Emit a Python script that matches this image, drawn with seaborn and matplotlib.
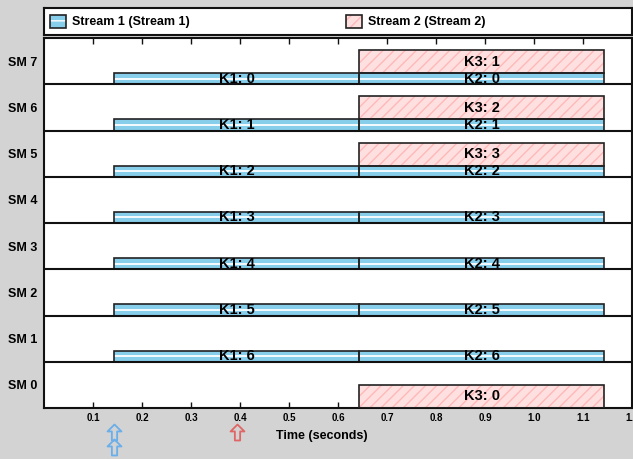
import matplotlib
matplotlib.use('Agg')
import numpy as np
import pandas as pd
import matplotlib.pyplot as plt
import matplotlib.transforms as mtransforms
from matplotlib.patches import Patch
from matplotlib.path import Path
from matplotlib.legend_handler import HandlerTuple
import seaborn as sns

# data
sm_ids = [0, 1, 2, 3, 4, 5, 6, 7]

k1_sm = [7, 6, 5, 4, 3, 2, 1]
k1_block = [0, 1, 2, 3, 4, 5, 6]
k1_start, k1_end = 0.143, 0.643

k2_sm = [7, 6, 5, 4, 3, 2, 1]
k2_block = [0, 1, 2, 3, 4, 5, 6]
k2_start, k2_end = 0.643, 1.143

k3_sm = [7, 6, 5, 0]
k3_block = [1, 2, 3, 0]
k3_start, k3_end = 0.643, 1.143

stream1_arrivals = [0.143, 0.143]
stream2_arrivals = [0.393]

xticks = [0.1, 0.2, 0.3, 0.4, 0.5, 0.6, 0.7, 0.8, 0.9, 1.0, 1.1, 1.2]

records = []
for name, sms, blocks, t0, t1, stream in [
        ('K1', k1_sm, k1_block, k1_start, k1_end, 1),
        ('K2', k2_sm, k2_block, k2_start, k2_end, 1),
        ('K3', k3_sm, k3_block, k3_start, k3_end, 2)]:
    for s, b in zip(sms, blocks):
        records.append({'kernel': name, 'block': b, 'sm': s,
                        'start': t0, 'end': t1, 'stream': stream})
df = pd.DataFrame(records)

sns.set_style('white')
plt.rcParams['font.family'] = ['Liberation Sans', 'DejaVu Sans']
plt.rcParams['hatch.linewidth'] = 1.0
plt.rcParams.update({'text.color': 'black', 'axes.labelcolor': 'black',
                     'xtick.color': 'black', 'ytick.color': 'black'})

blue = '#87CEEB'
pink_fill = '#FFE0E0'
pink_hatch = '#FFB8B8'
bg = '#d3d3d3'

fig = plt.figure(figsize=(6.33, 4.59), dpi=100, facecolor=bg)
ax = fig.add_axes([44 / 633, 51 / 459, 588 / 633, 370 / 459])
ax.set_facecolor('white')

S1_H = 0.24
S2_H = 0.5
s1_rows = set(df.loc[df.stream == 1, 'sm'])

for _, r in df.iterrows():
    if r.stream == 1:
        base, h = r.sm, S1_H
        ax.barh(base + h / 2, r.end - r.start, left=r.start, height=h,
                color=blue, linewidth=0, zorder=2)
        ax.hlines(base + h / 2, r.start, r.end, color='white', lw=1.3, zorder=3)
    else:
        base = r.sm + (S1_H if r.sm in s1_rows else 0)
        h = S2_H
        ax.barh(base + h / 2, r.end - r.start, left=r.start, height=h,
                color=pink_fill, edgecolor=pink_hatch, linewidth=0,
                hatch='///', zorder=2)
    ax.barh(base + h / 2, r.end - r.start, left=r.start, height=h,
            facecolor='none', edgecolor='#222222', linewidth=1.2, zorder=4)
    clip = mtransforms.TransformedBbox(
        mtransforms.Bbox([[0, r.sm], [1.2, r.sm + 1]]), ax.transData)
    t = ax.text((r.start + r.end) / 2, base + h / 2, f'{r.kernel}: {r.block}',
                ha='center', va='center', fontsize=10.5, fontweight='bold',
                color='black', zorder=5)
    t.set_clip_box(clip)
    t.set_clip_on(True)

for y in sm_ids[1:]:
    ax.axhline(y, color='#111111', lw=1.5, zorder=6)

ax.set_xlim(0, 1.2)
ax.set_ylim(0, len(sm_ids))
ax.set_xticks(xticks, labels=[f'{v:.1f}' for v in xticks],
              fontsize=7, fontweight='bold')
ax.set_yticks([s + 0.5 for s in sm_ids], labels=[f'SM {s}' for s in sm_ids],
              fontsize=9, fontweight='bold')
ax.tick_params(axis='x', direction='in', top=True, bottom=True,
               length=4, width=1, pad=3.5, color='#111111')
ax.tick_params(axis='y', length=0, pad=4.5)
for sp in ax.spines.values():
    sp.set_color('#111111')
    sp.set_linewidth(1.5)
ax.set_xlabel('Time (seconds)', fontsize=9, fontweight='bold')
ax.xaxis.set_label_coords(0.473, -0.06)

# arrival arrows below the axis
arrow = Path([(0, 1), (-0.87, 0.13), (-0.33, 0.13), (-0.33, -1),
              (0.33, -1), (0.33, 0.13), (0.87, 0.13), (0, 1)],
             [Path.MOVETO] + [Path.LINETO] * 6 + [Path.CLOSEPOLY])
trans = mtransforms.blended_transform_factory(ax.transData, ax.transAxes)
for arrivals, col in [(stream1_arrivals, '#6AAEEA'), (stream2_arrivals, '#E06666')]:
    ys = [-0.066 - 0.04 * i for i in range(len(arrivals))]
    ax.plot(arrivals, ys, ls='none', marker=arrow, ms=11.5, mfc='none',
            mec=col, mew=1.3, transform=trans, clip_on=False)

# legend box
lax = fig.add_axes([44 / 633, 424 / 459, 588 / 633, 27 / 459])
lax.set_facecolor('white')
lax.set_xticks([])
lax.set_yticks([])
for sp in lax.spines.values():
    sp.set_color('#111111')
    sp.set_linewidth(1.5)
h1 = (Patch(facecolor=blue, edgecolor='white', linewidth=0, hatch='--'),
      Patch(facecolor='none', edgecolor='#222222', linewidth=1.2))
h2 = (Patch(facecolor=pink_fill, edgecolor=pink_hatch, linewidth=0, hatch='///'),
      Patch(facecolor='none', edgecolor='#222222', linewidth=1.2))
lax.legend([h1, h2], ['Stream 1 (Stream 1)', 'Stream 2 (Stream 2)'],
           handler_map={tuple: HandlerTuple(ndivide=1, pad=0)},
           ncol=2, loc='center left', bbox_to_anchor=(0, 0.5),
           frameon=False, borderaxespad=0, borderpad=0.5,
           handlelength=1.28, handleheight=1.28, handletextpad=0.45,
           columnspacing=12.5, prop={'size': 9, 'weight': 'bold'})

fig.savefig('out.png', dpi=100, facecolor=bg)
